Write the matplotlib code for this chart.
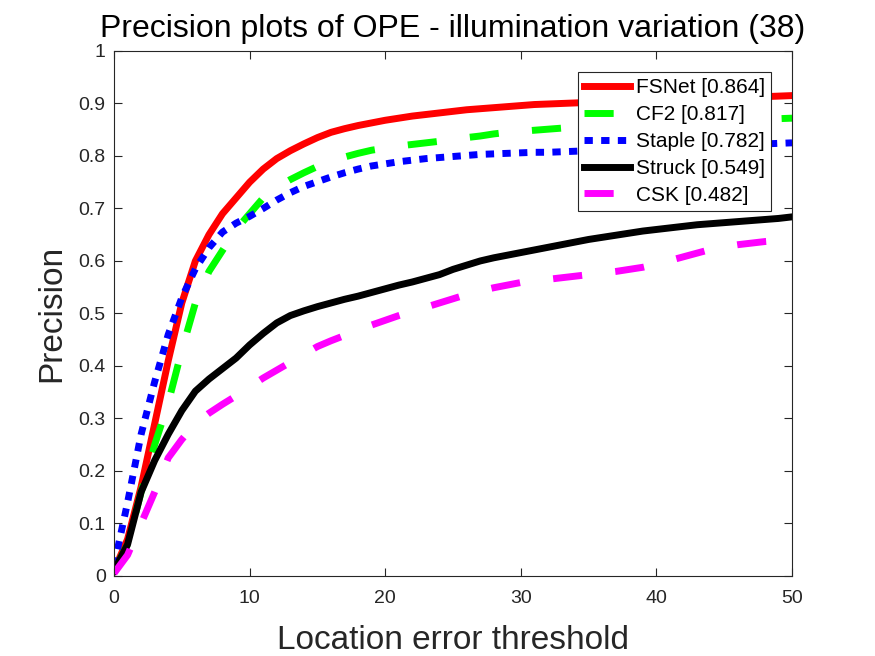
import matplotlib as mpl
import matplotlib.pyplot as plt
import numpy as np

mpl.use("Agg")

thresholds = list(range(0, 51))

fsnet = [0.01, 0.07, 0.17, 0.29, 0.41, 0.52, 0.60, 0.65, 0.69, 0.72,
         0.75, 0.775, 0.795, 0.81, 0.823, 0.835, 0.845, 0.852, 0.858, 0.863,
         0.868, 0.872, 0.876, 0.879, 0.882, 0.885, 0.888, 0.890, 0.892, 0.894,
         0.896, 0.898, 0.899, 0.900, 0.901, 0.902, 0.903, 0.904, 0.905, 0.906,
         0.907, 0.908, 0.909, 0.910, 0.910, 0.911, 0.912, 0.913, 0.913, 0.914,
         0.915]
cf2 = [0.01, 0.06, 0.16, 0.25, 0.33, 0.43, 0.52, 0.58, 0.62, 0.66,
       0.69, 0.72, 0.74, 0.755, 0.768, 0.78, 0.79, 0.798, 0.805, 0.811,
       0.815, 0.819, 0.822, 0.825, 0.828, 0.831, 0.835, 0.838, 0.842, 0.845,
       0.847, 0.849, 0.851, 0.853, 0.855, 0.857, 0.858, 0.859, 0.860, 0.861,
       0.862, 0.863, 0.864, 0.865, 0.866, 0.867, 0.868, 0.869, 0.870, 0.871,
       0.872]
staple = [0.02, 0.14, 0.27, 0.37, 0.46, 0.53, 0.585, 0.625, 0.655, 0.672,
          0.685, 0.70, 0.716, 0.73, 0.742, 0.751, 0.76, 0.768, 0.775, 0.781,
          0.785, 0.789, 0.792, 0.795, 0.797, 0.799, 0.801, 0.803, 0.804, 0.805,
          0.806, 0.807, 0.807, 0.808, 0.809, 0.810, 0.811, 0.812, 0.813, 0.814,
          0.815, 0.816, 0.817, 0.818, 0.819, 0.820, 0.821, 0.822, 0.823, 0.824,
          0.825]
struck = [0.01, 0.06, 0.16, 0.22, 0.27, 0.315, 0.352, 0.375, 0.395, 0.415,
          0.44, 0.462, 0.482, 0.496, 0.505, 0.513, 0.52, 0.527, 0.533, 0.54,
          0.547, 0.554, 0.56, 0.567, 0.574, 0.584, 0.592, 0.60, 0.606, 0.611,
          0.616, 0.621, 0.626, 0.631, 0.636, 0.641, 0.645, 0.649, 0.653, 0.657,
          0.660, 0.663, 0.666, 0.669, 0.671, 0.673, 0.675, 0.677, 0.679, 0.681,
          0.684]
csk = [0.005, 0.04, 0.10, 0.16, 0.225, 0.26, 0.29, 0.31, 0.327, 0.343,
       0.36, 0.377, 0.392, 0.407, 0.422, 0.437, 0.448, 0.458, 0.468, 0.478,
       0.487, 0.496, 0.504, 0.512, 0.52, 0.528, 0.536, 0.543, 0.549, 0.554,
       0.559, 0.562, 0.565, 0.568, 0.571, 0.574, 0.577, 0.58, 0.584, 0.588,
       0.594, 0.601, 0.608, 0.615, 0.622, 0.627, 0.631, 0.634, 0.637, 0.639,
       0.641]

names = ["FSNet [0.864]", "CF2 [0.817]", "Staple [0.782]",
         "Struck [0.549]", "CSK [0.482]"]
colors = ["#ff0000", "#00ff00", "#0000ff", "#000000", "#ff00ff"]

plt.rcParams["font.family"] = ["Liberation Sans", "DejaVu Sans"]
plt.rcParams["lines.scale_dashes"] = False

fig = plt.figure(figsize=(8.75, 6.56), dpi=100)
ax = fig.add_axes([0.1303, 0.122, 0.7749, 0.8003])

styles = [
    dict(linestyle="-"),
    dict(linestyle=(0, (21, 24))),
    dict(linestyle=(0, (6, 6)), dash_capstyle="butt"),
    dict(linestyle="-"),
    dict(linestyle=(0, (21, 24))),
]

for series, name, color, st in zip([fsnet, cf2, staple, struck, csk],
                                   names, colors, styles):
    ax.plot(thresholds, series, color=color, linewidth=5, label=name, **st)

ax.set_xlim(0, 50)
ax.set_ylim(0, 1)
ax.set_xticks(np.arange(0, 51, 10))
ax.set_yticks(np.arange(0, 1.01, 0.1))
ax.set_yticklabels(["0", "0.1", "0.2", "0.3", "0.4", "0.5", "0.6",
                    "0.7", "0.8", "0.9", "1"])
ax.tick_params(direction="in", top=True, right=True, labelsize=14,
               colors="#262626", length=6, width=0.8)
ax.tick_params(axis="y", pad=6)
ax.tick_params(axis="x", pad=10)
for sp in ax.spines.values():
    sp.set_color("#262626")
    sp.set_linewidth(0.8)

ax.set_title("Precision plots of OPE - illumination variation (38)",
             fontsize=23, pad=10)
ax.set_xlabel("Location error threshold", fontsize=24, color="#262626",
              labelpad=13)
ax.set_ylabel("Precision", fontsize=24, color="#262626", labelpad=8)

leg = ax.legend(loc="upper right", fontsize=15, fancybox=False,
                framealpha=1, edgecolor="#262626", borderpad=0.3,
                labelspacing=0.38, handlelength=2.2, handletextpad=0.3,
                borderaxespad=1.0)
leg.get_frame().set_linewidth(0.8)

fig.savefig("out.png")
